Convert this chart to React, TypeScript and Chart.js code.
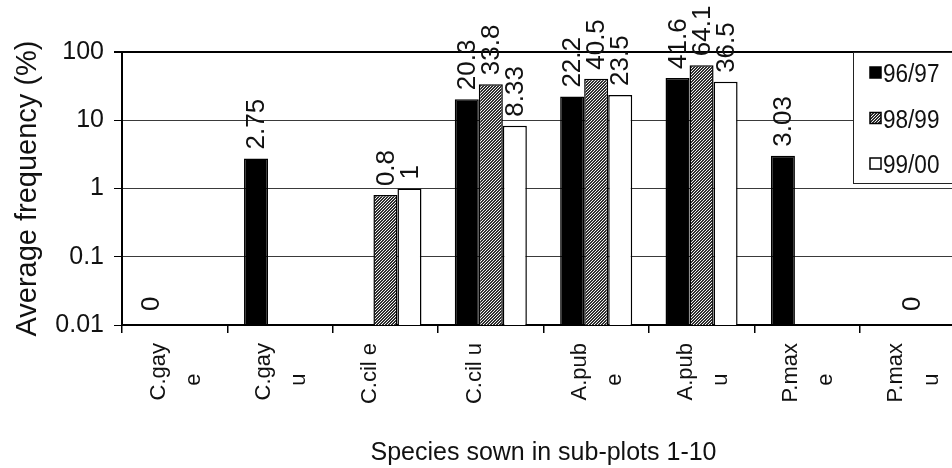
import React, { useEffect, useRef } from "react";
import { Chart, registerables } from "chart.js";

Chart.register(...registerables);

// ---- data ----
const categories: string[][] = [
  ["C.gay", "e"],
  ["C.gay", "u"],
  ["C.cil e"],
  ["C.cil u"],
  ["A.pub", "e"],
  ["A.pub", "u"],
  ["P.max", "e"],
  ["P.max", "u"],
];
const seriesNames = ["96/97", "98/99", "99/00"];
const values9697: (number | null)[] = [0, 2.75, null, 20.3, 22.2, 41.6, 3.03, null];
const values9899: (number | null)[] = [null, null, 0.8, 33.8, 40.5, 64.1, null, 0];
const values9900: (number | null)[] = [null, null, 1, 8.33, 23.5, 36.5, null, null];
const yTickValues = [0.01, 0.1, 1, 10, 100];
const yTickLabels = ["0.01", "0.1", "1", "10", "100"];
const yTitle = "Average frequency (%)";
const xTitle = "Species sown in sub-plots 1-10";

const FONT = "'Liberation Sans', Arial, Helvetica, sans-serif";
const INK = "#111";

function makeHatch(): CanvasPattern | string {
  const c = document.createElement("canvas");
  c.width = 3;
  c.height = 3;
  const g = c.getContext("2d");
  if (!g) return "#777";
  g.fillStyle = "#f2f2f2";
  g.fillRect(0, 0, 3, 3);
  g.fillStyle = "#2e2e2e";
  for (let x = 0; x < 3; x++) {
    for (let y = 0; y < 3; y++) {
      if ((x + y) % 3 !== 0) g.fillRect(x, y, 1, 1);
    }
  }
  return g.createPattern(c, "repeat") || "#777";
}

const valueLabels = {
  id: "valueLabels",
  afterDatasetsDraw(chart: any) {
    const ctx = chart.ctx;
    ctx.save();
    ctx.font = `26px ${FONT}`;
    ctx.fillStyle = INK;
    ctx.textAlign = "left";
    ctx.textBaseline = "middle";
    chart.data.datasets.forEach((ds: any, i: number) => {
      const meta = chart.getDatasetMeta(i);
      meta.data.forEach((el: any, j: number) => {
        const v = ds.data[j];
        if (v === null || v === undefined) return;
        ctx.save();
        ctx.translate(el.x, el.y - (v === 0 ? 14 : 9));
        ctx.rotate(-Math.PI / 2);
        ctx.fillText(String(v), 0, 1);
        ctx.restore();
      });
    });
    ctx.restore();
  },
};

const boxLegend = {
  id: "boxLegend",
  afterDraw(chart: any) {
    const { ctx, chartArea } = chart;
    const x0 = Math.round(chartArea.right - 112);
    const y0 = Math.round(chartArea.top);
    const y1 = y0 + 131;
    ctx.save();
    ctx.fillStyle = "#fff";
    ctx.fillRect(x0, y0 + 1, chart.width - x0, y1 - y0 - 1);
    ctx.strokeStyle = "#222";
    ctx.lineWidth = 1;
    ctx.strokeRect(x0 + 0.5, y0 + 0.5, chart.width - x0 + 5, y1 - y0);
    ctx.font = `24px ${FONT}`;
    ctx.textAlign = "left";
    ctx.textBaseline = "middle";
    chart.data.datasets.forEach((ds: any, i: number) => {
      const cy = y0 + 21 + i * 45.5;
      ctx.fillStyle = ds.backgroundColor;
      ctx.fillRect(x0 + 17, cy - 6, 11, 11);
      ctx.strokeStyle = "#000";
      ctx.lineWidth = 1.5;
      ctx.strokeRect(x0 + 17, cy - 6, 11, 11);
      ctx.fillStyle = INK;
      ctx.save();
      ctx.translate(x0 + 30, cy + 2);
      ctx.scale(0.94, 1.08);
      ctx.fillText(ds.label, 0, 0);
      ctx.restore();
    });
    ctx.restore();
  },
};

export default function App() {
  const ref = useRef<HTMLCanvasElement | null>(null);

  useEffect(() => {
    if (!ref.current) return;
    const hatch = makeHatch();
    const chart = new Chart(ref.current, {
      type: "bar",
      data: {
        labels: categories.map((c) => c.join(" ")),
        datasets: [
          { label: seriesNames[0], data: values9697, backgroundColor: "#000" },
          { label: seriesNames[1], data: values9899, backgroundColor: hatch as any },
          { label: seriesNames[2], data: values9900, backgroundColor: "#fff" },
        ].map((d) => ({
          ...d,
          borderColor: "#000",
          borderWidth: 1.5,
          barPercentage: 1.0,
          categoryPercentage: 0.684,
        })),
      },
      options: {
        responsive: false,
        maintainAspectRatio: false,
        animation: false,
        events: [],
        layout: { padding: { top: 52, left: 14, right: 7, bottom: 0 } },
        plugins: {
          legend: { display: false },
          tooltip: { enabled: false },
          title: { display: false },
        },
        scales: {
          x: {
            type: "category",
            grid: {
              display: true,
              drawOnChartArea: false,
              drawTicks: true,
              tickLength: 8,
              tickColor: "#000",
              lineWidth: 1.5,
              offset: true,
            },
            border: { display: true, color: "#000", width: 2 },
            ticks: {
              autoSkip: false,
              minRotation: 90,
              maxRotation: 90,
              padding: 10,
              labelOffset: -16,
              color: INK,
              font: { size: 22, family: FONT, lineHeight: 1.6 },
              callback: (_v: any, idx: number) => {
                const lines = categories[idx];
                return lines.length > 1 ? [lines[0], lines[1] + "     "] : lines[0];
              },
            },
            title: {
              display: true,
              text: xTitle,
              color: INK,
              font: { size: 25, family: FONT, lineHeight: 1 },
              padding: { top: 0, bottom: 2.5 },
            },
            afterFit: (scale: any) => {
              scale.height = 143;
              scale.paddingLeft = 0;
              scale.paddingRight = 0;
            },
          },
          y: {
            type: "logarithmic",
            min: 0.01,
            max: 100,
            afterBuildTicks: (scale: any) => {
              scale.ticks = yTickValues.map((v) => ({ value: v }));
            },
            grid: {
              color: (c: any) => (c.tick && c.tick.value === 100 ? "#000" : "#3a3a3a"),
              lineWidth: (c: any) => (c.tick && c.tick.value === 100 ? 2 : 1),
              tickColor: "#000",
              tickLength: 8,
              drawTicks: true,
            },
            border: { display: true, color: "#000", width: 2 },
            ticks: {
              padding: 10,
              color: INK,
              font: { size: 25, family: FONT },
              callback: (v: any) => {
                const k = yTickValues.indexOf(Number(v));
                return k >= 0 ? yTickLabels[k] : "";
              },
            },
            title: {
              display: true,
              text: yTitle,
              color: INK,
              font: { size: 29, family: FONT, lineHeight: 1 },
              padding: { top: -1, bottom: 0 },
            },
            afterFit: (scale: any) => {
              scale.width = 108;
            },
          },
        },
      },
      plugins: [valueLabels, boxLegend],
    } as any);
    return () => chart.destroy();
  }, []);

  return (
    <div
      style={{
        position: "fixed",
        left: 0,
        top: 0,
        width: 952,
        height: 468,
        overflow: "hidden",
        background: "#fff",
      }}
    >
      <canvas ref={ref} width={972} height={468} style={{ display: "block" }} />
    </div>
  );
}
